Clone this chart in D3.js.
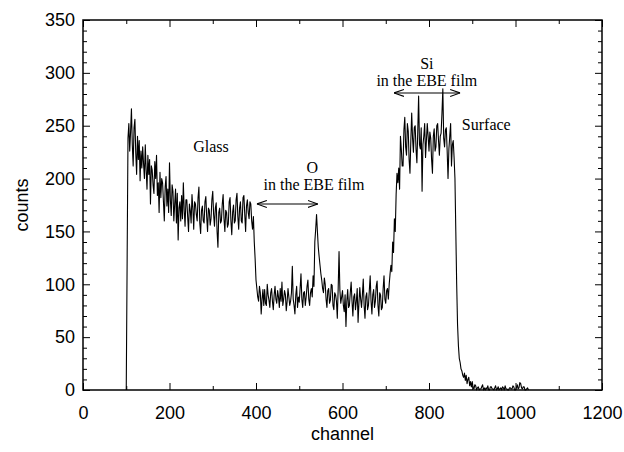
<!DOCTYPE html>
<html>
<head>
<meta charset="utf-8">
<script src="https://cdn.jsdelivr.net/npm/d3@7"></script>
<style>
body { margin: 0; background: #fff; }
</style>
</head>
<body>
<div class="spectrum"></div>
<script>
// Parameters
const width = 624;
const height = 452;
const margin = { top: 20, right: 22, bottom: 62, left: 83 };

// spectrum sampled every 2 channels, starting at channel 100
const channelStart = 100;
const channelStep = 2;

// counts per region
const glassCounts = [
    0, 120, 238, 252, 226, 244, 266, 232, 212, 248,
    256, 224, 204, 240, 218, 236, 198, 226, 210, 230,
    214, 200, 232, 208, 190, 222, 204, 218, 176, 212,
    208, 194, 186, 216, 200, 222, 184, 196, 168, 206,
    182, 200, 196, 178, 160, 192, 202, 174, 190, 168,
    215, 180, 165, 194, 188, 160, 176, 190, 158, 186,
    142, 172, 178, 160, 184, 162, 196, 170, 155, 180,
    180, 164, 150, 176, 170, 158, 185, 172, 152, 178,
    176, 166, 160, 182, 192, 158, 148, 170, 174, 160,
    158, 178, 183, 164, 150, 172, 170, 156, 162, 180,
    188, 166, 155, 172, 177, 150, 135, 168, 172, 158,
    160, 176, 185, 162, 150, 170, 168, 154, 157, 178,
    182, 160, 147, 168, 175, 158, 160, 180, 186, 164,
    152, 172, 178, 160, 158, 182, 184, 166, 150, 174,
    180, 168, 162, 178, 176, 160, 152, 164, 140, 124
];
const oxygenCounts = [
    104, 96, 88, 84, 98, 92, 72, 86, 95, 80,
    95, 82, 80, 100, 90, 85, 78, 92, 96, 84,
    76, 90, 98, 86, 82, 94, 88, 78, 96, 84,
    102, 80, 86, 94, 90, 75, 84, 96, 88, 80,
    84, 92, 117, 86, 80, 72, 90, 98, 78, 88,
    83, 96, 110, 86, 78, 92, 93, 80, 88, 98,
    104, 86, 80, 92, 96, 88, 108, 98, 140, 152,
    166, 150, 135, 126, 118, 110, 104, 96, 92, 106,
    100, 86, 78, 94, 96, 82, 85, 100, 99, 80,
    76, 92, 90, 84, 68, 96, 131, 94, 82, 88,
    94, 80, 74, 90, 60, 84, 95, 78, 80, 92,
    102, 84, 70, 88, 91, 76, 84, 96, 64, 82,
    97, 86, 78, 90, 105, 80, 68, 88, 92, 76,
    80, 94, 108, 84, 72, 90, 95, 78, 84, 98,
    103, 80, 70, 92, 90, 76, 78, 96, 108, 86,
    82, 94, 96, 86, 100, 110, 118, 112, 140, 130
];
const siliconCounts = [
    162, 150, 185, 205, 196, 210, 190, 240, 228, 212,
    212, 246, 258, 230, 222, 252, 245, 218, 205, 236,
    262, 238, 225, 248, 250, 228, 215, 244, 278, 232,
    228, 248, 188, 232, 240, 252, 220, 236, 252, 240,
    226, 244, 238, 218, 205, 240, 247, 226, 230, 250,
    252, 236, 222, 240, 243, 262, 285, 238, 230, 246,
    248, 226, 200, 228, 240, 252, 212, 232, 236, 220,
    200, 150, 100, 62, 42, 30, 26, 20, 18, 14
];
const tailCounts = [
    12, 16, 9, 14, 6, 10, 12, 4, 8, 3,
    8, 2, 1, 5, 4, 0, 2, 3, 0, 1,
    1, 3, 5, 0, 2, 0, 2, 1, 4, 0,
    0, 3, 3, 1, 1, 0, 2, 4, 0, 1,
    3, 0, 1, 2, 0, 3, 2, 0, 4, 1,
    1, 0, 0, 2, 2, 1, 1, 4, 3, 0,
    0, 2, 5, 1, 2, 7, 6, 2, 1, 3,
    3, 0, 0, 1, 2, 0
];

const xTicks = [0, 200, 400, 600, 800, 1000, 1200];
const xMinorTicks = [100, 300, 500, 700, 900, 1100];
const yTicks = [0, 50, 100, 150, 200, 250, 300, 350];
const yMinorTicks = [10, 20, 30, 40, 60, 70, 80, 90, 110, 120, 130, 140, 160, 170, 180, 190,
    210, 220, 230, 240, 260, 270, 280, 290, 310, 320, 330, 340];

const counts = glassCounts.concat(oxygenCounts, siliconCounts, tailCounts);
const data = counts.map((v, i) => ({ channel: channelStart + i * channelStep, count: v }));

function drawGraph() {
    const svg = d3.select('.spectrum')
        .append('svg')
        .attr('width', width)
        .attr('height', height)
        .style('font-family', '"Liberation Sans", Arial, sans-serif');

    const scaleX = d3.scaleLinear()
        .domain([0, 1200])
        .range([margin.left, width - margin.right]);

    const scaleY = d3.scaleLinear()
        .domain([0, 350])
        .range([height - margin.bottom, margin.top]);

    const bottom = height - margin.bottom;
    const right = width - margin.right;
    const fmt = d3.format('d');

    // spectrum
    svg.append('path')
        .datum(data)
        .attr('fill', 'none')
        .attr('stroke', '#000')
        .attr('stroke-width', 1.1)
        .attr('stroke-linejoin', 'round')
        .attr('d', d3.line().x(d => scaleX(d.channel)).y(d => scaleY(d.count)));

    // axes: ticks point inward on all four sides
    const axes = [
        [d3.axisBottom(scaleX).tickValues(xTicks).tickSize(-7).tickPadding(16).tickFormat(fmt), `translate(0,${bottom})`],
        [d3.axisBottom(scaleX).tickValues(xMinorTicks).tickSize(-4).tickFormat(''), `translate(0,${bottom})`],
        [d3.axisTop(scaleX).tickValues(xTicks).tickSize(-7).tickFormat(''), `translate(0,${margin.top})`],
        [d3.axisTop(scaleX).tickValues(xMinorTicks).tickSize(-4).tickFormat(''), `translate(0,${margin.top})`],
        [d3.axisLeft(scaleY).tickValues(yTicks).tickSize(-7).tickPadding(8).tickFormat(fmt), `translate(${margin.left},0)`],
        [d3.axisLeft(scaleY).tickValues(yMinorTicks).tickSize(-4).tickFormat(''), `translate(${margin.left},0)`],
        [d3.axisRight(scaleY).tickValues(yTicks).tickSize(-7).tickFormat(''), `translate(${right},0)`],
        [d3.axisRight(scaleY).tickValues(yMinorTicks).tickSize(-4).tickFormat(''), `translate(${right},0)`]
    ];
    axes.forEach(([axis, t]) => {
        const g = svg.append('g').attr('transform', t).call(axis);
        g.select('.domain').remove();
        g.selectAll('line').attr('stroke', '#000').attr('stroke-width', 1);
        g.selectAll('text').attr('font-size', 18).attr('fill', '#000')
            .style('font-family', '"Liberation Sans", Arial, sans-serif');
    });

    // frame
    svg.append('rect')
        .attr('x', margin.left)
        .attr('y', margin.top)
        .attr('width', right - margin.left)
        .attr('height', bottom - margin.top)
        .attr('fill', 'none')
        .attr('stroke', '#000')
        .attr('stroke-width', 1.5);

    // axis titles
    svg.append('text')
        .attr('x', (margin.left + right) / 2)
        .attr('y', 440)
        .attr('text-anchor', 'middle')
        .attr('font-size', 18)
        .text('channel');

    svg.append('text')
        .attr('transform', 'translate(28,205) rotate(-90)')
        .attr('text-anchor', 'middle')
        .attr('font-size', 18)
        .text('counts');

    // annotations
    const notes = svg.append('g')
        .style('font-family', '"Liberation Serif", "Times New Roman", serif')
        .attr('font-size', 16)
        .attr('fill', '#000');

    const note = (txt, c, v, anchor) => notes.append('text')
        .attr('x', scaleX(c)).attr('y', scaleY(v))
        .attr('text-anchor', anchor || 'middle')
        .text(txt);

    note('Glass', 296, 225);
    note('O', 530, 205);
    note('in the EBE film', 534, 189);
    note('Si', 795, 304);
    note('in the EBE film', 795, 288);
    note('Surface', 876, 245.5, 'start');

    const defs = svg.append('defs');
    defs.append('marker')
        .attr('id', 'head')
        .attr('viewBox', '0 0 10 10')
        .attr('refX', 10).attr('refY', 5)
        .attr('markerWidth', 10).attr('markerHeight', 10)
        .attr('markerUnits', 'userSpaceOnUse')
        .attr('orient', 'auto-start-reverse')
        .append('path')
        .attr('d', 'M0,1.5 L10,5 L0,8.5')
        .attr('fill', 'none')
        .attr('stroke', '#000')
        .attr('stroke-width', 1.1);

    const arrow = (c0, c1, v) => svg.append('line')
        .attr('x1', scaleX(c0)).attr('x2', scaleX(c1))
        .attr('y1', scaleY(v)).attr('y2', scaleY(v))
        .attr('stroke', '#000')
        .attr('stroke-width', 1.1)
        .attr('marker-start', 'url(#head)')
        .attr('marker-end', 'url(#head)');

    arrow(402, 543, 176);
    arrow(719, 872, 281);
}

drawGraph();
</script>
</body>
</html>
